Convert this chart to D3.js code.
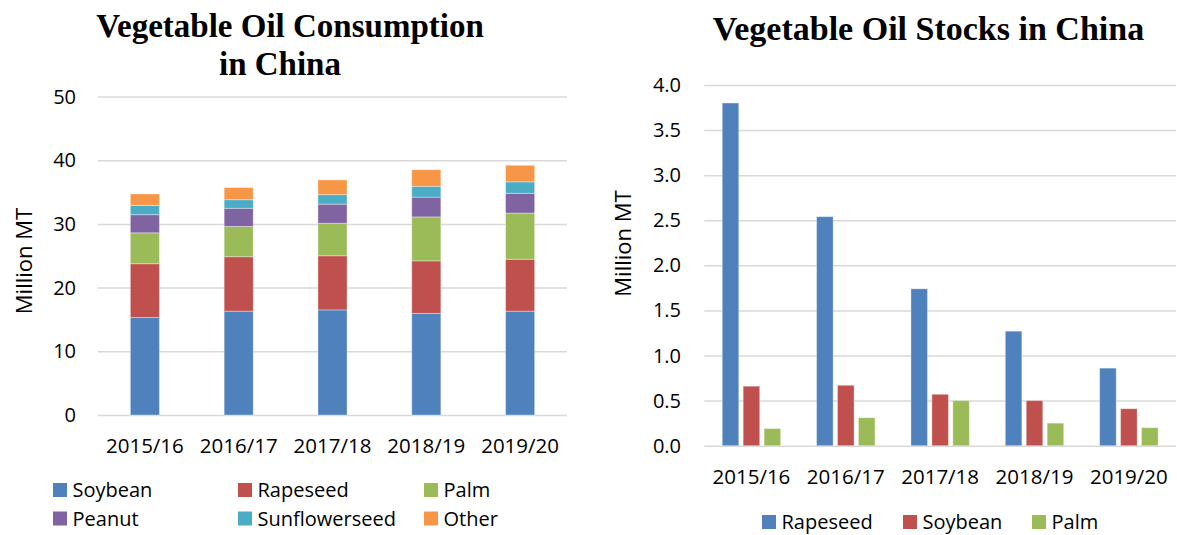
<!DOCTYPE html>
<html>
<head>
<meta charset="utf-8">
<script src="https://cdn.jsdelivr.net/npm/d3@7"></script>
<style>
	body { margin: 0; background: #fff; }
	svg { display: block; }
	.title { font-family: "Liberation Serif", "Times New Roman", serif; font-weight: bold; font-size: 33px; fill: #000; }
	.lbl { font-family: "Open Sans", "Noto Sans", sans-serif; fill: #000; }
	.grid line { stroke: #d9d9d9; stroke-width: 1.5; }
	.grid path { display: none; }
</style>
</head>
<body>
<svg id="chart" width="1177" height="535"></svg>
<script>
// years shared by both charts
const years = ['2015/16', '2016/17', '2017/18', '2018/19', '2019/20'];

// consumption, million MT (stacked, bottom to top)
const consSeries = ['Soybean', 'Rapeseed', 'Palm', 'Peanut', 'Sunflowerseed', 'Other'];
const soybeanCons = [15.3, 16.3, 16.5, 15.95, 16.3];
const rapeseedCons = [8.45, 8.55, 8.5, 8.25, 8.15];
const palmCons = [4.85, 4.75, 5.1, 6.9, 7.25];
const peanutCons = [2.85, 2.85, 3.0, 3.1, 3.1];
const sunflowerCons = [1.45, 1.35, 1.5, 1.7, 1.8];
const otherCons = [1.8, 1.9, 2.3, 2.6, 2.6];
const consTicks = [0, 10, 20, 30, 40, 50];

// stocks, million MT
const stockSeries = ['Rapeseed', 'Soybean', 'Palm'];
const rapeseedStocks = [3.80, 2.54, 1.74, 1.27, 0.86];
const soybeanStocks = [0.66, 0.67, 0.57, 0.50, 0.41];
const palmStocks = [0.19, 0.31, 0.50, 0.25, 0.20];
const stockTicks = [0, 0.5, 1, 1.5, 2, 2.5, 3, 3.5, 4];

// office palette, used in series order on each chart
const palette = ['#4f81bd', '#c0504d', '#9bbb59', '#8064a2', '#4bacc6', '#f79646'];

const svg = d3.select('#chart');

// ---------- left: consumption ----------
(function() {
	let color = d3.scaleOrdinal().domain(consSeries).range(palette);
	let consValues = [soybeanCons, rapeseedCons, palmCons, peanutCons, sunflowerCons, otherCons];
	let rows = years.map((y, i) => {
		let r = {year: y};
		consSeries.forEach((s, j) => { r[s] = consValues[j][i]; });
		return r;
	});

	let x = d3.scaleBand().domain(years).range([98, 567])
		.paddingInner(0.69).paddingOuter(0.345);
	let y = d3.scaleLinear().domain([0, 50]).range([415, 96.5]);

	let g = svg.append('g');

	g.append('g')
		.attr('class', 'grid')
		.attr('transform', 'translate(98,0)')
		.call(d3.axisLeft(y).tickValues(consTicks).tickSize(-469).tickFormat(''));

	let stacked = d3.stack().keys(consSeries)(rows);

	g.selectAll('.layer')
		.data(stacked)
		.enter()
		.append('g')
		.attr('fill', d => color(d.key))
		.selectAll('rect')
		.data(d => d)
		.enter()
		.append('rect')
		.attr('x', d => x(d.data.year))
		.attr('width', x.bandwidth())
		.attr('y', d => y(d[1]))
		.attr('height', d => y(d[0]) - y(d[1]))
		.attr('stroke', '#fff')
		.attr('stroke-opacity', 0.35)
		.attr('stroke-width', 1);

	g.selectAll('.ytick')
		.data(consTicks)
		.enter()
		.append('text')
		.attr('class', 'lbl')
		.attr('x', 76)
		.attr('y', d => y(d))
		.attr('dy', '0.35em')
		.attr('text-anchor', 'end')
		.style('font-size', '20px')
		.text(d => d);

	g.selectAll('.xtick')
		.data(years)
		.enter()
		.append('text')
		.attr('class', 'lbl')
		.attr('x', d => x(d) + x.bandwidth() / 2)
		.attr('y', 453)
		.attr('text-anchor', 'middle')
		.style('font-size', '20.5px')
		.text(d => d);

	g.append('text')
		.attr('class', 'lbl')
		.attr('transform', 'translate(32,261) rotate(-90)')
		.attr('text-anchor', 'middle')
		.style('font-size', '22px')
		.text('Million MT');

	g.append('text').attr('class', 'title')
		.attr('x', 290).attr('y', 36.5).attr('text-anchor', 'middle')
		.text('Vegetable Oil Consumption');
	g.append('text').attr('class', 'title')
		.attr('x', 280).attr('y', 74.5).attr('text-anchor', 'middle')
		.text('in China');

	// legend, 3 columns x 2 rows
	let legX = [53, 238, 424];
	let legY = [490, 518.5];
	let leg = g.selectAll('.leg')
		.data(consSeries)
		.enter()
		.append('g')
		.attr('transform', (d, i) => 'translate(' + legX[i % 3] + ',' + legY[Math.floor(i / 3)] + ')');
	leg.append('rect')
		.attr('x', 0).attr('y', -7).attr('width', 14).attr('height', 14)
		.attr('fill', d => color(d));
	leg.append('text')
		.attr('class', 'lbl')
		.attr('x', 19.5).attr('y', 7)
		.style('font-size', '20px')
		.text(d => d);
})();

// ---------- right: stocks ----------
(function() {
	let color = d3.scaleOrdinal().domain(stockSeries).range(palette);
	let stockValues = [rapeseedStocks, soybeanStocks, palmStocks];
	let rows = years.map((y, i) => {
		let r = {year: y};
		stockSeries.forEach((s, j) => { r[s] = stockValues[j][i]; });
		return r;
	});

	let x0 = d3.scaleBand().domain(years).range([704.3, 1176])
		.paddingInner(0.381).paddingOuter(0.19);
	let x1 = d3.scaleBand().domain(stockSeries).range([0, x0.bandwidth()])
		.paddingInner(0.21);
	let y = d3.scaleLinear().domain([0, 4]).range([445.7, 85]);

	let g = svg.append('g');

	g.append('g')
		.attr('class', 'grid')
		.attr('transform', 'translate(704.3,0)')
		.call(d3.axisLeft(y).tickValues(stockTicks).tickSize(-471.7).tickFormat(''));

	g.selectAll('.grp')
		.data(rows)
		.enter()
		.append('g')
		.attr('transform', d => 'translate(' + x0(d.year) + ',0)')
		.selectAll('rect')
		.data(d => stockSeries.map(s => ({key: s, value: d[s]})))
		.enter()
		.append('rect')
		.attr('x', d => x1(d.key))
		.attr('width', x1.bandwidth())
		.attr('y', d => y(d.value))
		.attr('height', d => y(0) - y(d.value))
		.attr('fill', d => color(d.key))
		.attr('stroke', '#fff')
		.attr('stroke-opacity', 0.35)
		.attr('stroke-width', 1);

	g.selectAll('.ytick')
		.data(stockTicks)
		.enter()
		.append('text')
		.attr('class', 'lbl')
		.attr('x', 681)
		.attr('y', d => y(d))
		.attr('dy', '0.35em')
		.attr('text-anchor', 'end')
		.style('font-size', '20px')
		.text(d => d3.format('.1f')(d));

	g.selectAll('.xtick')
		.data(years)
		.enter()
		.append('text')
		.attr('class', 'lbl')
		.attr('x', d => x0(d) + x0.bandwidth() / 2)
		.attr('y', 484)
		.attr('text-anchor', 'middle')
		.style('font-size', '20.5px')
		.text(d => d);

	g.append('text')
		.attr('class', 'lbl')
		.attr('transform', 'translate(631,243.5) rotate(-90)')
		.attr('text-anchor', 'middle')
		.style('font-size', '22px')
		.text('Million MT');

	g.append('text').attr('class', 'title')
		.attr('x', 928.5).attr('y', 39.5).attr('text-anchor', 'middle')
		.style('font-size', '34px')
		.text('Vegetable Oil Stocks in China');

	let legX = [762, 903, 1032];
	let leg = g.selectAll('.leg')
		.data(stockSeries)
		.enter()
		.append('g')
		.attr('transform', (d, i) => 'translate(' + legX[i] + ',522)');
	leg.append('rect')
		.attr('x', 0).attr('y', -7).attr('width', 14).attr('height', 14)
		.attr('fill', d => color(d));
	leg.append('text')
		.attr('class', 'lbl')
		.attr('x', 19.5).attr('y', 7)
		.style('font-size', '20px')
		.text(d => d);
})();
</script>
</body>
</html>
